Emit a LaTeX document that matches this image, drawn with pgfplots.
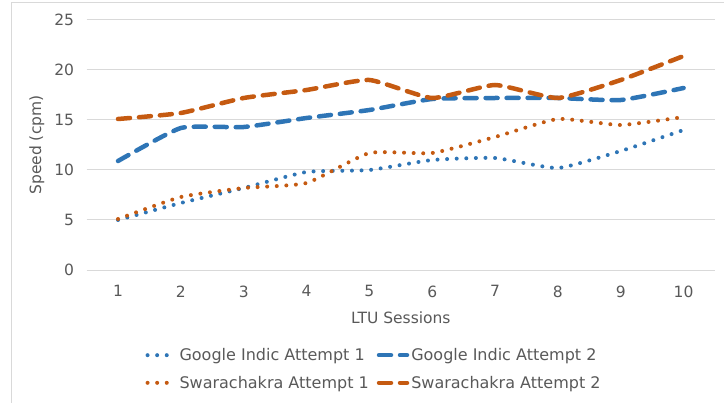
\documentclass[border=0pt]{standalone}
\usepackage{pgfplots}
\pgfplotsset{compat=1.18}
\usepackage{fontspec}
\setmainfont{DejaVu Sans}
\definecolor{gblue}{HTML}{2E75B6}
\definecolor{sorange}{HTML}{C55A11}
\definecolor{txt}{HTML}{595959}
\definecolor{gridc}{HTML}{D9D9D9}
\newcommand{\cf}{\fontsize{15.5bp}{18bp}\selectfont}
\newcommand{\lf}{\fontsize{16bp}{18bp}\selectfont}
\begin{document}
\begin{tikzpicture}
\useasboundingbox (0,0) rectangle (724bp,403bp);
\draw[gridc, line width=1bp] (11bp,0) -- (11bp,400bp) -- (724bp,400bp);
\begin{axis}[
 at={(86.6bp,133bp)}, anchor=south west,
 scale only axis, width=628.4bp, height=250bp,
 xmin=0.5, xmax=10.5, ymin=0, ymax=25,
 xtick={1,...,10}, ytick={0,5,...,25},
 axis line style={draw=none},
 major tick length=0,
 ymajorgrids, grid style={gridc, line width=1bp},
 tick label style={text=txt, font=\cf},
 /pgf/number format/assume math mode=true,
 yticklabel style={xshift=-9bp},
 xticklabel style={yshift=-12bp},
 xlabel={LTU Sessions}, ylabel={Speed (cpm)},
 every axis x label/.style={at={(axis description cs:0.5,0)}, yshift=-48bp, anchor=center, font=\cf, text=txt},
 every axis y label/.style={at={(axis description cs:-0.079,0.5)}, rotate=90, anchor=center, font=\cf, text=txt},
 legend columns=2,
 legend style={at={(axis description cs:0.4574,-0.396)}, anchor=center, draw=none, fill=none, font=\lf, text=txt, row sep=10bp, /tikz/every even column/.append style={column sep=6bp}},
 legend cell align=left,
 legend image code/.code={\draw[#1] (2bp,0bp) -- (30bp,0bp);},
 dots/.style={line width=4bp, line cap=round, dash pattern=on 0bp off 9.6bp},
 dashs/.style={line width=4.5bp, line cap=round, dash pattern=on 12bp off 9bp},
]
\addplot[gblue, dots, smooth, tension=0.3] coordinates {(1,5.0) (2,6.7) (3,8.2) (4,9.8) (5,10.0) (6,11.0) (7,11.2) (8,10.2) (9,11.9) (10,14.0)};
\addlegendentry{Google Indic Attempt 1}
\addplot[gblue, dashs, smooth, tension=0.3] coordinates {(1,10.9) (2,14.2) (3,14.3) (4,15.2) (5,16.0) (6,17.1) (7,17.2) (8,17.2) (9,17.0) (10,18.2)};
\addlegendentry{Google Indic Attempt 2}
\addplot[sorange, dots, smooth, tension=0.3] coordinates {(1,5.1) (2,7.3) (3,8.2) (4,8.7) (5,11.7) (6,11.7) (7,13.3) (8,15.1) (9,14.5) (10,15.3)};
\addlegendentry{Swarachakra Attempt 1}
\addplot[sorange, dashs, smooth, tension=0.3] coordinates {(1,15.1) (2,15.7) (3,17.2) (4,18.0) (5,19.0) (6,17.2) (7,18.5) (8,17.2) (9,19.0) (10,21.4)};
\addlegendentry{Swarachakra Attempt 2}
\end{axis}
\end{tikzpicture}
\end{document}
